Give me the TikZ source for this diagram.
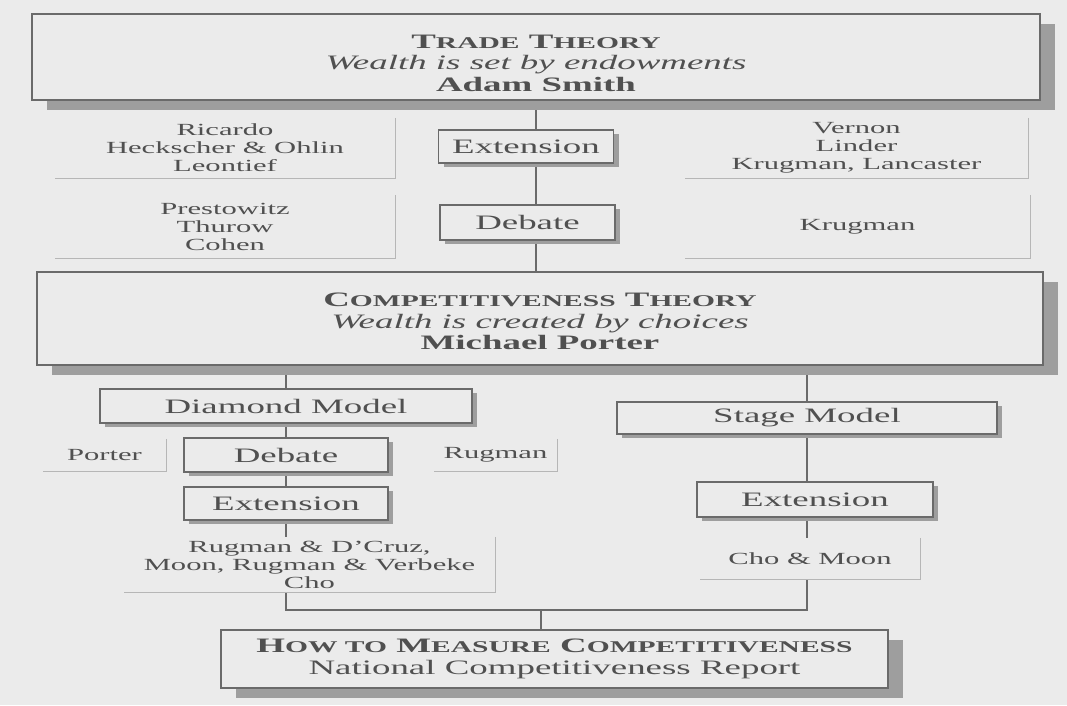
\documentclass[tikz,border=0pt]{standalone}
\usepackage{fontspec}
\setmainfont{Liberation Serif}[FakeStretch=1.8]
\usetikzlibrary{shadows,backgrounds}

\definecolor{paper}{HTML}{EBEBEB}
\definecolor{ink}{HTML}{505050}
\definecolor{rule}{HTML}{6A6A6A}
\definecolor{shade}{HTML}{9E9E9E}
\definecolor{faint}{HTML}{B6B6B6}

% fake small capitals: first letter full size, rest smaller
\newcommand{\smcap}[2]{#1{\fontsize{16.4}{16.4}\selectfont #2}}

\tikzset{
  theorybox/.style={draw=rule, line width=1.2pt, fill=paper, text=ink, align=center,
    inner sep=0pt, general shadow={fill=shade, shadow xshift=15pt, shadow yshift=-10pt},
    font=\fontsize{20.5}{21.5}\selectfont},
  stepbox/.style={draw=rule, line width=1.2pt, fill=paper, text=ink, inner sep=0pt,
    general shadow={fill=shade, shadow xshift=5pt, shadow yshift=-4pt},
    font=\fontsize{20.5}{21.5}\selectfont},
  namebox/.style={text=ink, align=center, inner sep=0pt, font=\fontsize{17}{18}\selectfont},
  link/.style={draw=rule, line width=1.6pt},
  nameframe/.style={draw=faint, line width=1pt}
}

\begin{document}
\begin{tikzpicture}[x=1pt, y=-1pt]

    % --- Frame ---
    \useasboundingbox (0,0) rectangle (1067,705);

    % --- Theory boxes ---
    \node[theorybox, minimum width=1008pt, minimum height=86pt, text height=69pt] (trade) at (536,57)
      {\textbf{\smcap{T}{RADE} \smcap{T}{HEORY}}\\ \textit{Wealth is set by endowments}\\ \textbf{Adam Smith}};
    \node[theorybox, minimum width=1006pt, minimum height=93pt, text height=63pt] (comp) at (540,318.5)
      {\textbf{\smcap{C}{OMPETITIVENESS} \smcap{T}{HEORY}}\\ \textit{Wealth is created by choices}\\ \textbf{Michael Porter}};
    \node[theorybox, minimum width=667pt, minimum height=58pt] (measure) at (554.5,659)
      {\textbf{\smcap{H}{OW TO} \smcap{M}{EASURE} \smcap{C}{OMPETITIVENESS}}\\ National Competitiveness Report};

    % --- Step boxes ---
    \node[stepbox, minimum width=175pt, minimum height=33pt] (ext1) at (526,146.5) {Extension};
    \node[stepbox, minimum width=175pt, minimum height=35pt] (deb1) at (527.5,222.5) {Debate};
    \node[stepbox, minimum width=372pt, minimum height=34pt] (diamond) at (286,406) {Diamond Model};
    \node[stepbox, minimum width=380pt, minimum height=32pt] (stage) at (807,418) {Stage Model};
    \node[stepbox, minimum width=204pt, minimum height=34pt] (deb2) at (286,455) {Debate};
    \node[stepbox, minimum width=204pt, minimum height=33pt] (ext2) at (286,503.5) {Extension};
    \node[stepbox, minimum width=236pt, minimum height=35pt] (ext3) at (815,499.5) {Extension};

    % --- Authors ---
    \node[namebox, minimum width=340pt, minimum height=60pt] (ricardo) at (225,148)
      {Ricardo\\ Heckscher \& Ohlin\\ Leontief};
    \node[namebox, minimum width=340pt, minimum height=63pt] (prestowitz) at (225,226.5)
      {Prestowitz\\ Thurow\\ Cohen};
    \node[namebox, minimum width=343pt, minimum height=60pt] (vernon) at (856.5,148)
      {Vernon\\ Linder\\ Krugman, Lancaster};
    \node[namebox, minimum width=345pt, minimum height=63pt] (krugman) at (857.5,226.5) {Krugman};
    \node[namebox, minimum width=123pt, minimum height=32pt] (porter) at (104.5,455) {Porter};
    \node[namebox, minimum width=123pt, minimum height=32pt] (rugman) at (495.5,455) {Rugman};
    \node[namebox, minimum width=371pt, minimum height=55pt] (rugdcruz) at (309.5,564.5)
      {Rugman \& D'Cruz,\\ Moon, Rugman \& Verbeke\\ Cho};
    \node[namebox, minimum width=220pt, minimum height=41pt] (chomoon) at (810,558.5) {Cho \& Moon};

    % right and bottom edges of the author frames
    \foreach \n in {ricardo,prestowitz,vernon,krugman,porter,rugman,rugdcruz,chomoon}
      \draw[nameframe] (\n.north east) -- (\n.south east) -- (\n.south west);

    \coordinate (join) at (541,610);

    % --- Connectors ---
    \begin{scope}[on background layer]
      \fill[paper] (0,0) rectangle (1067,705);
      \draw[link] (trade.south) -- (trade.south |- comp.north);
      \draw[link] (diamond.north) -- (diamond.north |- comp.south);
      \draw[link] (stage.north) -- (stage.north |- comp.south);
      \draw[link] (diamond.south) -- (ext2.north);
      \draw[link] (ext2.south) -- (ext2.south |- rugdcruz.north);
      \draw[link] (stage.south) -- (stage.south |- chomoon.north);
      \draw[link] (ext2.south |- rugdcruz.south) -- (ext2.south |- join)
        -- (stage.south |- join) -- (stage.south |- chomoon.south);
      \draw[link] (join) -- (join |- measure.north);
    \end{scope}

\end{tikzpicture}
\end{document}
